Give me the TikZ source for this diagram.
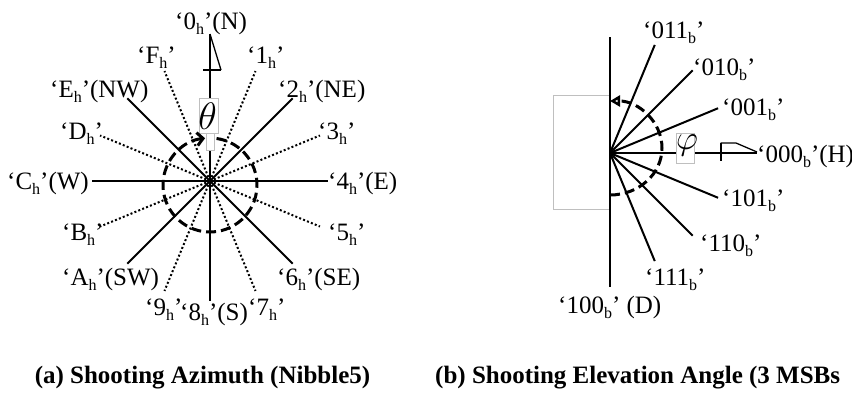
\documentclass[tikz,border=0pt]{standalone}
\usepackage{fontspec}
\usepackage{graphicx}
\setmainfont{Liberation Serif}
\usetikzlibrary{arrows.meta,calc}
\newcommand\sbs[1]{\raisebox{-0.2em}{\fontsize{16bp}{16bp}\selectfont #1}}
\begin{document}
\begin{tikzpicture}[x=1bp,y=-1bp,
  lbl/.style={anchor=base west,inner sep=0pt,font=\fontsize{25bp}{25bp}\selectfont},
  solidray/.style={line width=2bp},
  dotray/.style={line width=2bp,dash pattern=on 2bp off 2.2bp},
  dashedarc/.style={line width=3bp,dash pattern=on 10bp off 5bp},
  gbox/.style={draw=black!25,line width=0.6bp,fill=white,inner sep=0pt},
  gline/.style={draw=black!25,line width=0.7bp},
  flagline/.style={line width=1.3bp},
  captxt/.style={inner sep=0pt,font=\fontsize{25bp}{25bp}\selectfont\bfseries}]
\useasboundingbox[fill=white] (0,0) rectangle (852,397);

% ---------------- left: azimuth ----------------
\coordinate (cL) at (210,181);
\coordinate (cc) at (210,185);
\coordinate (L0) at (210,34);
\draw[solidray] (cL) -- (L0);
\foreach \i/\len in {2/117,4/118,6/117,8/120,10/117,12/118,14/117}{
  \coordinate (L\i) at ($(cL)+({90-22.5*\i}:\len bp)$);
  \draw[solidray] (cL) -- (L\i);
}
\foreach \i in {1,3,5,7,9,11,13,15}{
  \coordinate (L\i) at ($(cL)+({90-22.5*\i}:119bp)$);
  \draw[dotray] (cL) -- (L\i);
}
% flag on N
\coordinate (fA) at (221,70);
\coordinate (fB) at (203,70);
\draw[flagline] (L0) -- (fA);
\draw[solidray] (fB) -- (fA);
% theta boxes
\node[gbox,minimum width=19bp,minimum height=35bp] (thbox) at (208.5,115.5) {};
\node[gbox,minimum width=8bp,minimum height=17bp] (thsmall) at (210,141.5) {};
\node[inner sep=0pt,font=\fontsize{20bp}{20bp}\selectfont] (theta) at (207.5,116.5) {\scalebox{1.85}{$\theta$}};
% dashed circle with arrow
\draw[dashedarc,-{Straight Barb[length=6bp,width=13bp]}]
  ([shift={(82:47bp)}]cc) arc[start angle=82,end angle=-264,radius=47bp];

% labels
\node[lbl] (n0) at (175,29) {‘0\sbs{h}’(N)};
\node[lbl] (nF) at (137,63) {‘F\sbs{h}’};
\node[lbl] (n1) at (247,63) {‘1\sbs{h}’};
\node[lbl] (nE) at (50,97) {‘E\sbs{h}’(NW)};
\node[lbl] (n2) at (278,97) {‘2\sbs{h}’(NE)};
\node[lbl] (nD) at (60,139) {‘D\sbs{h}’};
\node[lbl] (n3) at (318,139) {‘3\sbs{h}’};
\node[lbl] (nC) at (7,189) {‘C\sbs{h}’(W)};
\node[lbl] (n4) at (328,189) {‘4\sbs{h}’(E)};
\node[lbl] (nB) at (62,240) {‘B\sbs{h}’};
\node[lbl] (n5) at (328,240) {‘5\sbs{h}’};
\node[lbl] (nA) at (62,285) {‘A\sbs{h}’(SW)};
\node[lbl] (n6) at (277,285) {‘6\sbs{h}’(SE)};
\node[lbl] (n9) at (145,315) {‘9\sbs{h}’};
\node[lbl] (n8) at (180,320) {‘8\sbs{h}’(S)};
\node[lbl] (n7) at (248,315) {‘7\sbs{h}’};

% ---------------- right: elevation ----------------
\draw[gline] (610,95) -- (553,95) -- (553,209) -- (610,209);
\coordinate (cR) at (610,153);
\coordinate (cA) at (610,148);
\coordinate (Rup) at (610,37);
\coordinate (Rdn) at (610,287);
\coordinate (R0) at (757,153);
\draw[solidray] (Rup) -- (Rdn);
\draw[solidray] (cR) -- (R0);
\foreach \a in {67.5,45,22.5,-22.5,-45,-67.5}{
  \draw[solidray] (cR) -- ($(cR)+(\a:117bp)$);
}
% flag on H
\coordinate (gA) at (720.5,143);
\coordinate (gB) at (720.5,161);
\coordinate (gC) at (736,143);
\coordinate (gD) at (757,152);
\draw[solidray] (gA) -- (gB);
\draw[flagline] (gA) -- (gC) -- (gD);
% phi box
\node[gbox,minimum width=18bp,minimum height=30bp] (phbox) at (685,148) {};
\node[inner sep=0pt,font=\fontsize{20bp}{20bp}\selectfont] (phi) at (687,145) {\scalebox{1.65}{$\varphi$}};
% dashed arc
\draw[dashedarc,-{Triangle[open,length=10bp,width=11bp]}]
  ([shift={(-90:52bp and 47bp)}]cA) arc[start angle=-90,end angle=90,x radius=52bp,y radius=47bp];

\node[lbl] (b011) at (643,38) {‘011\sbs{b}’};
\node[lbl] (b010) at (693,75) {‘010\sbs{b}’};
\node[lbl] (b001) at (722,115) {‘001\sbs{b}’};
\node[lbl] (b000) at (757,162) {‘000\sbs{b}’(H)};
\node[lbl] (b101) at (722,206) {‘101\sbs{b}’};
\node[lbl] (b110) at (700,251) {‘110\sbs{b}’};
\node[lbl] (b111) at (645,285) {‘111\sbs{b}’};
\node[lbl] (b100) at (558,313) {‘100\sbs{b}’ (D)};

% captions
\node[captxt,anchor=base] (capa) at (202.5,383) {(a) Shooting Azimuth (Nibble5)};
\node[captxt,anchor=base west] (capb) at (435,383) {(b) Shooting Elevation Angle (3 MSBs};
\end{tikzpicture}
\end{document}
